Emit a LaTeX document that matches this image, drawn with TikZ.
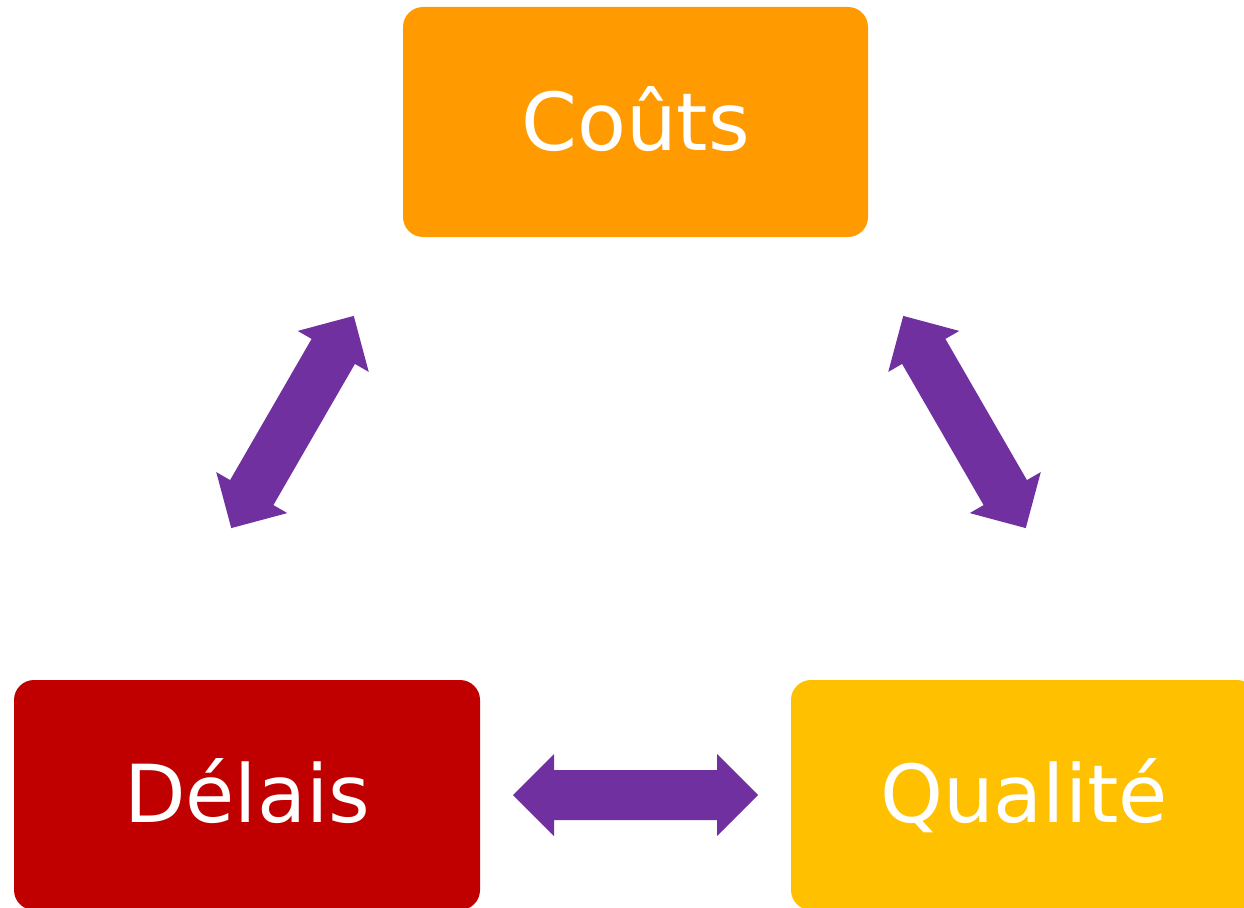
\documentclass[tikz,border=0pt]{standalone}
\usepackage{fontspec}
\setmainfont{DejaVu Sans}
\definecolor{costorange}{RGB}{255,155,0}
\definecolor{delayred}{RGB}{192,0,0}
\definecolor{qualyellow}{RGB}{255,192,0}
\definecolor{linkpurple}{RGB}{112,48,160}
\tikzset{
  x=1pt, y=1pt,
  card/.style={rectangle, rounded corners=20pt, minimum width=466pt,
    minimum height=230pt, inner sep=0pt},
  cardtext/.style={text=white, font=\fontsize{80}{96}\selectfont, anchor=base, inner sep=0pt},
  pics/dblarrow/.style={code={
    \fill[linkpurple] (-122.5,0) -- (-81.5,41) -- (-81.5,25) -- (81.5,25)
      -- (81.5,41) -- (122.5,0) -- (81.5,-41) -- (81.5,-25) -- (-81.5,-25)
      -- (-81.5,-41) -- cycle;}}
}
\begin{document}
\begin{tikzpicture}
\useasboundingbox (0,0) rectangle (1244,-907);
\clip (0,0) rectangle (1244,-907);
% the three corners of the triangle
\node[card, fill=costorange, minimum width=465pt] (cost) at (635.5,-122) {};
\node[card, fill=delayred] (delay) at (247,-795) {};
\node[card, fill=qualyellow] (quality) at (1024,-795) {};
\node[cardtext] (costlbl) at (635.5,-150) {Coûts};
\node[cardtext] (delaylbl) at (247,-822) {Délais};
\node[cardtext] (qualitylbl) at (1024,-822) {Qualité};
% two-way links between them
\pic[rotate=60] at (292.5,-422) {dblarrow};
\pic[rotate=-60] at (964.5,-422) {dblarrow};
\pic at (635.5,-795) {dblarrow};
\end{tikzpicture}
\end{document}
